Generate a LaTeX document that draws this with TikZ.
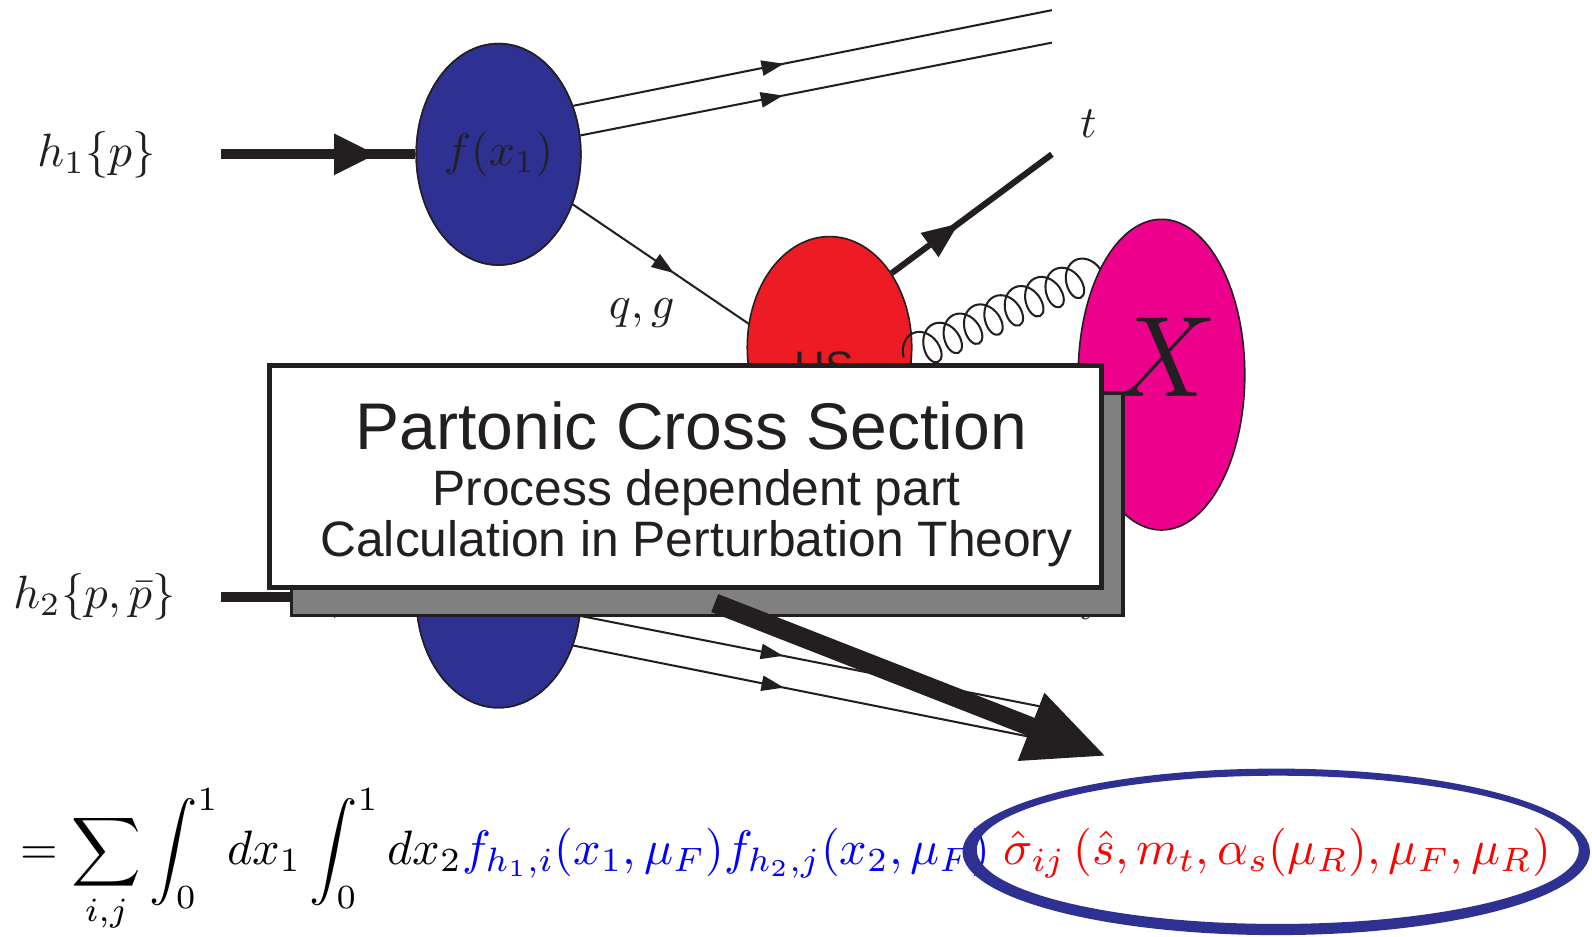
\documentclass[tikz,border=0pt]{standalone}
\usepackage{fontspec}
\newfontfamily\hv{Liberation Sans}
\usetikzlibrary{arrows.meta,decorations.markings,decorations.pathmorphing,shapes.geometric,calc}
\definecolor{ink}{RGB}{35,31,32}
\definecolor{pblue}{RGB}{46,49,146}
\definecolor{pred}{RGB}{237,28,36}
\definecolor{pmag}{RGB}{236,0,140}
\definecolor{shade}{RGB}{128,128,128}
\definecolor{fblue}{RGB}{0,0,255}
\definecolor{fred}{RGB}{255,0,0}
\tikzset{
  blob/.style={ellipse, draw=ink, line width=1.6pt, inner sep=0pt},
  fermion/.style={draw=ink, line width=2pt},
  midarr/.style n args={3}{postaction={decorate}, decoration={markings,
     mark=at position #1 with {\arrow{Triangle[length=#2pt,width=#3pt]}}}},
  lbl/.style={text=ink, inner sep=0pt},
}
\begin{document}
\begin{tikzpicture}[x=1pt,y=-1pt]
\useasboundingbox (0,0) rectangle (1568,922);
% end coordinates
\coordinate (e1) at (1036,10);
\coordinate (e2) at (1036,42);
\coordinate (e3) at (1036,698);
\coordinate (e4) at (1036,730);
\coordinate (qg1) at (742,322);
\coordinate (tend) at (1036,152);
\coordinate (h1s) at (218,152);
\coordinate (h2s) at (218,588);
\coordinate (gs) at (890,352);
\coordinate (ge) at (1090,262);
\coordinate (bs) at (704,594);
\coordinate (bt) at (1090,745);
% blob nodes (placed, drawn later in order)
\path (491,152) node[blob, fill=pblue, minimum width=162pt, minimum height=218pt] (b1) {}
      (491,588) node[blob, fill=pblue, minimum width=162pt, minimum height=218pt] (b2) {};
% fermion lines
\draw[fermion, midarr={0.44}{22}{15}] (b1.33) -- (e1);
\draw[fermion, midarr={0.43}{22}{15}] (b1.13) -- (e2);
\draw[fermion, midarr={0.56}{22}{15}] (b1.-34) -- (qg1);
\draw[fermion, midarr={0.43}{22}{15}] (b2.-13) -- (e3);
\draw[fermion, midarr={0.44}{22}{15}] (b2.-33) -- (e4);
\draw[ink, line width=10pt, midarr={0.8}{42}{38}] (h1s) -- (b1.west);
\draw[ink, line width=10pt, midarr={0.8}{42}{38}] (h2s) -- (b2.west);
% blobs on top
\node[blob, fill=pblue, minimum width=162pt, minimum height=218pt] at (b1) {};
\node[blob, fill=pblue, minimum width=162pt, minimum height=218pt] at (b2) {};
\node[lbl] (fx) at (b1) {\scalebox{4.5}{$f(x_1)$}};
% labels
\node[lbl] (h1) at (95,152) {\scalebox{4.6}{$h_1\{p\}$}};
\node[lbl] (h2) at (93,588) {\scalebox{4.6}{$h_2\{p,\bar p\}$}};
\node[lbl] (qg) at (632,308) {\scalebox{4.5}{$q,g$}};
\node[lbl] (tl) at (1072,122) {\scalebox{4.4}{$t$}};
\node[lbl] (tbl) at (1070,594) {\scalebox{4.4}{$\bar t$}};
% hard scattering blob
\node[blob, fill=pred, minimum width=162pt, minimum height=218pt] (hs) at (817,342) {};
\node[lbl, anchor=base, font=\hv\fontsize{42}{46}\selectfont] (hst) at (812,376) {HS};
\draw[ink, line width=6pt, midarr={0.42}{36}{28}] (hs.50) -- (tend);
% gluon
\draw[ink, line width=2pt, decorate, decoration={coil, amplitude=18pt, segment length=22pt, aspect=0.7}] (gs) -- (ge);
% X blob
\node[blob, fill=pmag, minimum width=164pt, minimum height=306pt] (xb) at (1144,369) {};
\node[lbl] (xl) at (1148,352) {\scalebox{11.3}{$X$}};
% shadow, arrow, box
\node[draw=ink, line width=3.5pt, fill=shade, minimum width=819pt, minimum height=219pt, inner sep=0pt] (shadow) at (696.5,496.5) {};
\draw[ink, line width=19pt, -{Triangle[length=80pt,width=66pt]}] (bs) -- (bt);
\node[draw=ink, line width=5pt, fill=white, minimum width=820pt, minimum height=219pt, inner sep=0pt] (pcs) at (675,469.5) {};
\node[lbl, anchor=base, font=\hv\fontsize{65}{70}\selectfont] (l1) at (681,443) {Partonic Cross Section};
\node[lbl, anchor=base, font=\hv\fontsize{49}{54}\selectfont] (l2) at (686,498) {Process dependent part};
\node[lbl, anchor=base, font=\hv\fontsize{49}{54}\selectfont] (l3) at (686,548) {Calculation in Perturbation Theory};
% formula
\node[anchor=base west, inner sep=0pt] (eq) at (20,851) {\resizebox{1507pt}{!}{$\displaystyle =\sum_{i,j}\int_0^1 dx_1\int_0^1 dx_2\textcolor{fblue}{f_{h_1,i}(x_1,\mu_F)f_{h_2,j}(x_2,\mu_F)}\;\textcolor{fred}{\hat\sigma_{ij}\left(\hat s, m_t,\alpha_s(\mu_R),\mu_F,\mu_R\right)}$}};
\fill[pblue, even odd rule] (1257,839) ellipse (309 and 82) (1258.5,837) ellipse (296.5 and 73);
\end{tikzpicture}
\end{document}
